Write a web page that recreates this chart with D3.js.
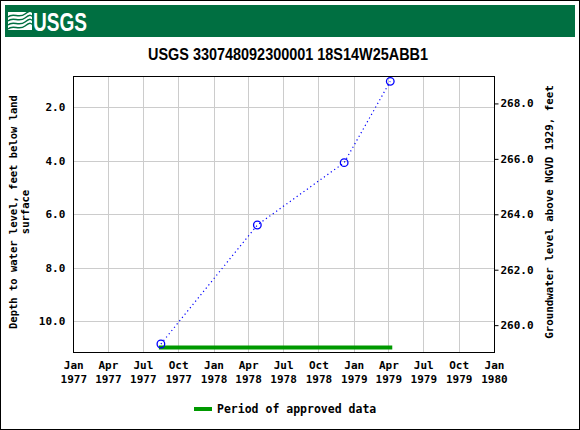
<!DOCTYPE html>
<html>
<head>
<meta charset="utf-8">
<script src="https://cdn.jsdelivr.net/npm/d3@7"></script>
<style>
  html, body { margin: 0; padding: 0; background: #fff; }
  svg { display: block; }
  .mono { font-family: "DejaVu Sans Mono", "Liberation Mono", monospace; font-weight: bold; fill: #000; }
</style>
</head>
<body>
<svg id="chart" width="580" height="430"></svg>
<script>
// ---- Data ----
const title = "USGS 330748092300001 18S14W25ABB1";
const measureDates = ["1977-08-17", "1978-04-25", "1978-12-07", "1979-04-06"];
const depthValues = [10.85, 6.40, 4.07, 1.03];
const approvedPeriod = ["1977-08-17", "1979-04-06"];
const leftTicks = [2, 4, 6, 8, 10];
const rightTicks = [260, 262, 264, 266, 268];
const monthNames = ["Jan", "Feb", "Mar", "Apr", "May", "Jun", "Jul", "Aug", "Sep", "Oct", "Nov", "Dec"];
const leftTitle = ["Depth to water level, feet below land", "surface"];
const rightTitle = "Groundwater level above NGVD 1929, feet";
const legendLabel = "Period of approved data";

// ---- Layout ----
const W = 580, H = 430;
const plot = { left: 73.3, right: 494, top: 76, bottom: 352.3 };
const parse = d3.timeParse("%Y-%m-%d");

const svg = d3.select("#chart");

// outer border
svg.append("rect").attr("x", 0.5).attr("y", 0.5).attr("width", W - 1).attr("height", H - 1)
  .attr("fill", "#fff").attr("stroke", "#000").attr("stroke-width", 1);

// header band
svg.append("rect").attr("x", 5).attr("y", 5).attr("width", 570).attr("height", 32).attr("fill", "#006F41");
// logo icon (stylised waves)
const logo = svg.append("g");
logo.append("rect").attr("x", 8).attr("y", 12).attr("width", 24).attr("height", 18).attr("fill", "#fff");
[15, 19, 23, 27].forEach(y => {
  logo.append("path")
    .attr("d", `M8,${y + 2} C13,${y - 3} 19,${y + 4} 25,${y - 1} S30,${y - 3} 32,${y - 3}`)
    .attr("fill", "none").attr("stroke", "#006F41").attr("stroke-width", 1.4);
});
svg.append("text").attr("x", 33).attr("y", 30.5)
  .attr("font-family", "Liberation Sans, Arial, sans-serif").attr("font-weight", "bold")
  .attr("font-size", 25).attr("fill", "#fff")
  .attr("textLength", 54).attr("lengthAdjust", "spacingAndGlyphs")
  .text("USGS");

// title
svg.append("text").attr("x", 288).attr("y", 60).attr("text-anchor", "middle")
  .attr("font-family", "Liberation Sans, Arial, sans-serif").attr("font-weight", "bold")
  .attr("font-size", 16).attr("fill", "#000")
  .attr("textLength", 280).attr("lengthAdjust", "spacingAndGlyphs")
  .text(title);

// ---- Scales ----
const x = d3.scaleTime().domain([parse("1977-01-01"), parse("1980-01-01")]).range([plot.left, plot.right]);
const yL = d3.scaleLinear().domain([0.83, 11.16]).range([plot.top, plot.bottom]);
const yR = d3.scaleLinear().domain([268.99, 259.02]).range([plot.top, plot.bottom]);

const xTicks = x.ticks(d3.timeMonth.every(3));

// grid
const grid = svg.append("g").attr("stroke", "#cccccc").attr("stroke-width", 1);
xTicks.forEach(t => {
  const xx = Math.round(x(t)) + 0.5;
  grid.append("line").attr("x1", xx).attr("x2", xx).attr("y1", plot.top).attr("y2", plot.bottom);
});
leftTicks.forEach(v => {
  const yy = Math.round(yL(v)) + 0.5;
  grid.append("line").attr("x1", plot.left).attr("x2", plot.right).attr("y1", yy).attr("y2", yy);
});

// frame
svg.append("rect").attr("x", Math.round(plot.left) + 0.5).attr("y", Math.round(plot.top) + 0.5)
  .attr("width", Math.round(plot.right) - Math.round(plot.left)).attr("height", Math.round(plot.bottom) - Math.round(plot.top))
  .attr("fill", "none").attr("stroke", "#000").attr("stroke-width", 1);

// left axis
const axL = d3.axisLeft(yL).tickValues(leftTicks).tickSize(0).tickPadding(8).tickFormat(d3.format(".1f"));
const gL = svg.append("g").attr("transform", `translate(${plot.left},0)`).call(axL);
gL.select(".domain").remove();
gL.selectAll("text").attr("class", "mono").attr("font-size", 11).attr("font-family", null);

// right axis
const axR = d3.axisRight(yR).tickValues(rightTicks).tickSize(4).tickPadding(2).tickFormat(d3.format(".1f"));
const gR = svg.append("g").attr("transform", `translate(${Math.round(plot.right) + 0.5},0)`).call(axR);
gR.select(".domain").remove();
gR.selectAll("line").attr("stroke", "#000");
gR.selectAll("text").attr("class", "mono").attr("font-size", 11).attr("font-family", null);

// bottom axis
const axB = d3.axisBottom(x).tickValues(xTicks).tickSize(0).tickPadding(0).tickFormat(() => "");
const gB = svg.append("g").attr("transform", `translate(0,${plot.bottom})`).call(axB);
gB.select(".domain").remove();
gB.selectAll(".tick").each(function (d) {
  const t = d3.select(this).select("text").attr("class", "mono").attr("font-size", 11).attr("font-family", null)
    .attr("y", 0).attr("dy", null);
  t.append("tspan").attr("x", 0).attr("y", 17).text(monthNames[d.getMonth()]);
  t.append("tspan").attr("x", 0).attr("y", 31).text(d.getFullYear());
});

// axis titles
svg.append("text").attr("class", "mono").attr("font-size", 10.5)
  .attr("transform", `translate(17,212) rotate(-90)`).attr("text-anchor", "middle")
  .text(leftTitle[0]);
svg.append("text").attr("class", "mono").attr("font-size", 10.5)
  .attr("transform", `translate(29,212) rotate(-90)`).attr("text-anchor", "middle")
  .text(leftTitle[1]);
svg.append("text").attr("class", "mono").attr("font-size", 10.8)
  .attr("transform", `translate(553,212) rotate(-90)`).attr("text-anchor", "middle")
  .text(rightTitle);

// approved period bar
svg.append("line")
  .attr("x1", x(parse(approvedPeriod[0]))).attr("x2", x(parse(approvedPeriod[1])))
  .attr("y1", 347.5).attr("y2", 347.5)
  .attr("stroke", "#009900").attr("stroke-width", 4).attr("stroke-linecap", "square");

// data line + points
const pts = measureDates.map((d, i) => ({ date: parse(d), depth: depthValues[i] }));
const line = d3.line().x(d => x(d.date)).y(d => yL(d.depth));
svg.append("path").datum(pts).attr("d", line)
  .attr("fill", "none").attr("stroke", "#0000ff").attr("stroke-width", 1.2).attr("stroke-dasharray", "1.2,3");
svg.selectAll("circle.pt").data(pts).enter().append("circle").attr("class", "pt")
  .attr("cx", d => x(d.date)).attr("cy", d => yL(d.depth)).attr("r", 3.8)
  .attr("fill", "none").attr("stroke", "#0000ff").attr("stroke-width", 1.3);

// legend
svg.append("line").attr("x1", 194).attr("x2", 212).attr("y1", 409).attr("y2", 409)
  .attr("stroke", "#009900").attr("stroke-width", 4);
svg.append("text").attr("class", "mono").attr("font-size", 11.5).attr("x", 217).attr("y", 413)
  .text(legendLabel);
</script>
</body>
</html>
